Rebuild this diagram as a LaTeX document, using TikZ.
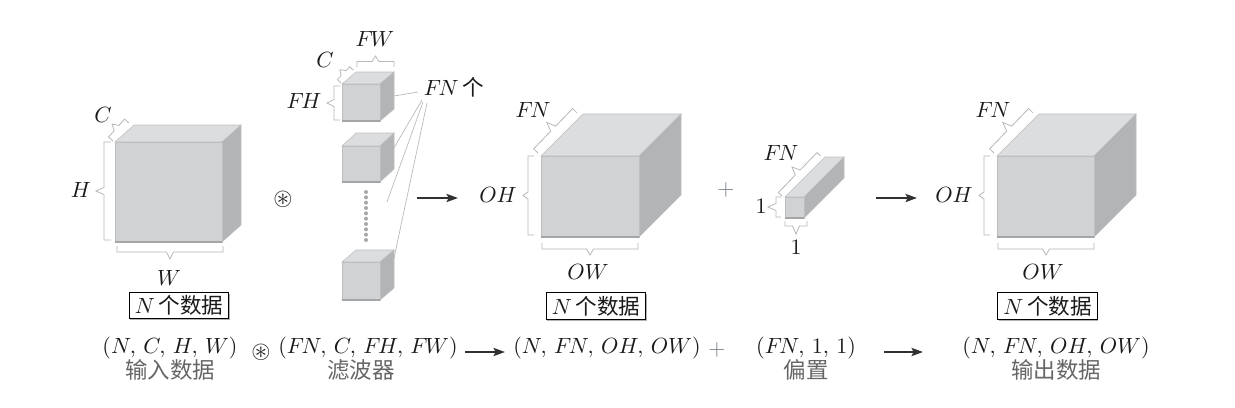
\documentclass[tikz,border=0pt]{standalone}
\usepackage{graphicx}
\usepackage{amssymb}
\usepackage{fontspec}
\newfontfamily\cjk{Noto Sans CJK SC}[Scale=0.98]
\usetikzlibrary{arrows.meta,shadows,calc}
\definecolor{cfront}{HTML}{D1D2D4}
\definecolor{ctop}{HTML}{DCDDDE}
\definecolor{cside}{HTML}{B3B4B6}
\definecolor{cedge}{HTML}{BDBEC0}
\definecolor{cbot}{HTML}{A4A5A7}
\definecolor{cbrk}{HTML}{B8B8B8}
\definecolor{cdot}{HTML}{A8A8A8}
\definecolor{cink}{HTML}{1A1A1A}
\definecolor{ccap}{HTML}{666666}
\definecolor{cplus}{HTML}{7C8290}
\newcommand{\bigt}[1]{\scalebox{1.65}{#1}}
\newcommand{\mFN}{F\mkern-2mu N}
\newcommand{\mFH}{F\mkern-2mu H}
\newcommand{\mFW}{F\mkern-2mu W}
\tikzset{
  lab/.style={inner sep=0pt,text=cink,scale=1.65,transform shape},
  optext/.style={inner sep=0pt,text=cink,scale=1.85,transform shape},
  captext/.style={inner sep=0pt,text=ccap,scale=1.72,transform shape,font=\cjk},
  databox/.style={draw=black,line width=0.8pt,fill=white,inner sep=0pt,minimum width=74.5pt,minimum height=19.8pt,
    text=cink,drop shadow={shadow xshift=0.8pt,shadow yshift=-1.2pt,fill=black!30,opacity=1}},
  brk/.style={draw=cbrk,line width=0.6pt},
  lead/.style={draw=cbrk,line width=0.5pt},
  flow/.style={draw=cink!90,line width=1.9pt,-{Stealth[length=8.5pt,width=6pt,inset=1.5pt]}},
}
% front x0,y0,x1,y1, back offset dx,dy
\newcommand{\boxcube}[6]{%
  \fill[ctop,draw=cedge,line width=0.4pt] (#1,#2) -- ++(#5,-#6) -- ++(#3-#1,0) -- (#3,#2) -- cycle;
  \fill[cside,draw=cedge,line width=0.4pt] (#3,#2) -- ++(#5,-#6) -- ++(0,#4-#2) -- (#3,#4) -- cycle;
  \fill[cfront,draw=cedge,line width=0.4pt] (#1,#2) rectangle (#3,#4);
  \draw[cbot,line width=1.1pt] (#1,#4) -- (#3,#4);
}
% start x,y, length, angle, depth, tip
\newcommand{\brkt}[6]{%
  \draw[brk,shift={(#1,#2)},rotate=#4] (0,0) -- (0,-#5) -- ({#3/2-3.5},-#5) -- ({#3/2},-#5-#6) -- ({#3/2+3.5},-#5) -- (#3,-#5) -- (#3,0);
}
\begin{document}
\begin{tikzpicture}[x=0.75pt,y=-0.75pt]
\useasboundingbox[fill=white] (0,0) rectangle (1235,407);
% cubes
\boxcube{115}{142}{222}{242}{19}{17}
\boxcube{342}{84}{380}{121}{14}{12}
\boxcube{342}{146}{380}{182}{14}{13}
\boxcube{342}{262}{380}{300}{14}{12}
\boxcube{541}{156}{639}{237}{42}{42}
\boxcube{785}{197}{804}{218}{40}{40}
\boxcube{997}{156}{1094}{237}{42}{42}
% dots
\draw[draw=cdot,line width=3pt,line cap=round,dash pattern=on 0pt off 4pt] (366,192) -- (366,240);
% braces
\brkt{111}{240}{98}{90}{7}{8}
\brkt{223}{246}{106}{180}{6}{7}
\brkt{113}{141}{24}{48}{6}{6}
\brkt{357}{67}{37}{0}{5.5}{5.5}
\brkt{341}{83}{17.7}{46}{5}{5}
\brkt{340}{120}{34}{90}{6}{7}
\brkt{538}{153}{56}{46}{6}{9}
\brkt{534}{235}{79}{90}{6}{5}
\brkt{638}{243}{96}{180}{6}{6}
\brkt{782}{196}{55.6}{46}{5}{8}
\brkt{781}{217}{20}{90}{5}{8}
\brkt{807}{221}{22}{180}{5}{8}
\brkt{994}{153}{56}{46}{6}{9}
\brkt{990}{235}{79}{90}{6}{5}
\brkt{1094}{243}{96}{180}{6}{6}
% labels
\node[lab] (c1) at (103,115) {$C$};
\node[lab] (h1) at (81,190) {$H$};
\node[lab] (w1) at (169,278) {$W$};
\node[databox] (b1) at (179,305.5) {\bigt{$N$\,{\cjk 个数据}}};
\node[lab] (fw) at (375,39) {$\mFW$};
\node[lab] (c2) at (325,60) {$C$};
\node[lab] (fh) at (304,101) {$\mFH$};
\node[lab] (fn) at (454,87) {$\mFN$\,{\cjk 个}};
\node[optext] (op1) at (283,199) {$\circledast$};
\node[lab] (oh2) at (498,195) {$OH$};
\node[lab] (fn2) at (533,110) {$\mFN$};
\node[lab] (ow2) at (588,272) {$OW$};
\node[databox] (b2) at (596,306) {\bigt{$N$\,{\cjk 个数据}}};
\node[lab,text=cplus] (pl1) at (726,190) {$+$};
\node[lab] (fn3) at (781,153) {$\mFN$};
\node[lab] (one1) at (761,206) {$1$};
\node[lab] (one2) at (796,247) {$1$};
\node[lab] (oh3) at (954,195) {$OH$};
\node[lab] (fn4) at (993,110) {$\mFN$};
\node[lab] (ow3) at (1043,272) {$OW$};
\node[databox] (b3) at (1047.5,306) {\bigt{$N$\,{\cjk 个数据}}};
% leaders
\coordinate (l1) at (388,97);
\coordinate (l2) at (388,158);
\coordinate (l3) at (387,202);
\coordinate (l4) at (390,277);
\coordinate (s1) at (418,92);
\coordinate (s2) at (422,100);
\coordinate (s3) at (423,102);
\coordinate (s4) at (427,103);
\draw[lead] (s1) -- (l1);
\draw[lead] (s2) -- (l2);
\draw[lead] (s3) -- (l3);
\draw[lead] (s4) -- (l4);
% arrows
\coordinate (a1s) at (417,198); \coordinate (a1e) at (458,198);
\coordinate (a2s) at (876,198); \coordinate (a2e) at (917,198);
\coordinate (a3s) at (465,352); \coordinate (a3e) at (505,352);
\coordinate (a4s) at (884,352); \coordinate (a4e) at (923,352);
\draw[flow] (a1s) -- (a1e);
\draw[flow] (a2s) -- (a2e);
\draw[flow] (a3s) -- (a3e);
\draw[flow] (a4s) -- (a4e);
% bottom
\node[lab] (t1) at (170,348) {$(N,\,C,\,H,\,W)$};
\node[optext] (op2) at (261,352) {$\circledast$};
\node[lab] (t2) at (368,348) {$(\mFN,\,C,\,\mFH,\,\mFW)$};
\node[lab] (t3) at (607,348) {$(N,\,\mFN,\,OH,\,OW)$};
\node[lab,text=cplus] (pl2) at (717,350) {$+$};
\node[lab] (t4) at (806,348) {$(\mFN,\,1,\,1)$};
\node[lab] (t5) at (1056,348) {$(N,\,\mFN,\,OH,\,OW)$};
\node[captext] (k1) at (170,370) {输入数据};
\node[captext] (k2) at (361,370) {滤波器};
\node[captext] (k3) at (806,370) {偏置};
\node[captext] (k4) at (1056,370) {输出数据};
\end{tikzpicture}
\end{document}
